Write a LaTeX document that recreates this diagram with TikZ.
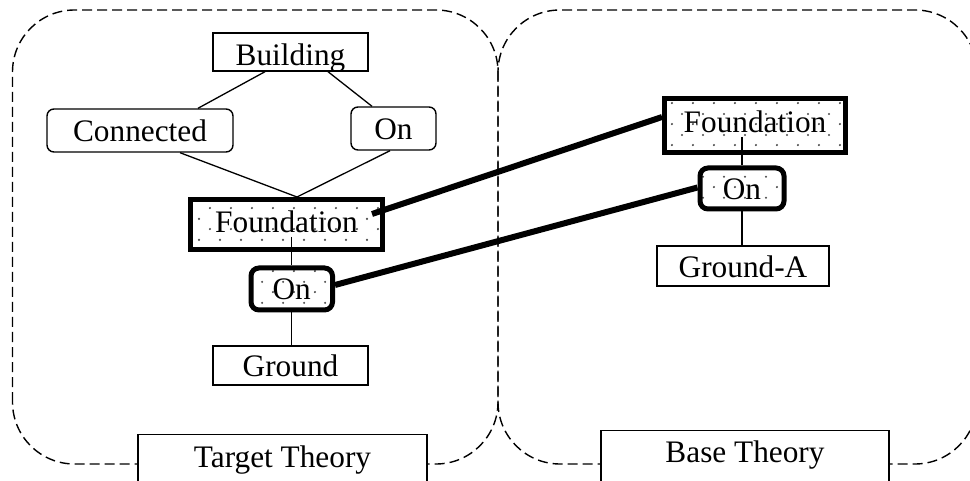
\documentclass[tikz,border=0pt]{standalone}
\usepackage{fontspec}
\setmainfont{Liberation Serif}
\usetikzlibrary{patterns}

% sparse staggered dot fill for the mapped elements
\pgfdeclarepatternformonly{sparsedots}{\pgfqpoint{-2pt}{-2pt}}{\pgfqpoint{19pt}{19pt}}{\pgfqpoint{21pt}{21pt}}{%
  \pgfpathcircle{\pgfqpoint{0pt}{0pt}}{1.2pt}%
  \pgfpathcircle{\pgfqpoint{10.5pt}{10.5pt}}{1.2pt}%
  \pgfusepath{fill}%
}

\begin{document}
\begin{tikzpicture}[x=1pt,y=-1pt,
  font=\fontsize{31.3}{36}\selectfont,
  box/.style={draw, line width=1.4pt, inner sep=0pt, text depth=0pt},
  rbox/.style={box, rounded corners=7pt},
  keybox/.style={draw, line width=5pt, inner sep=0pt, text depth=0pt,
    pattern=sparsedots, pattern color=black!70},
  keyrbox/.style={keybox, rounded corners=8pt},
  link/.style={line width=1.3pt},
  maplink/.style={line width=6pt},
  theory/.style={draw, dash pattern=on 10pt off 5pt, line width=1.4pt, rounded corners=62pt},
  labelbox/.style={draw, fill=white, line width=1.4pt, inner sep=0pt, anchor=north}
]
\useasboundingbox (0,0) rectangle (970,481);

% the two theories
\draw[theory] (12.5,464) rectangle (498,10);
\draw[theory] (498,10) rectangle (977,464);

\node[labelbox, minimum width=289pt, text height=33pt, text depth=20pt] (tt) at (282.5,434) {Target Theory};
\node[labelbox, minimum width=288pt, text height=32pt, text depth=22pt] (bt) at (745,430) {Base Theory};

% target theory
\node[box, minimum width=155pt, minimum height=38pt, text height=28pt] (bld) at (290.5,52) {Building};
\node[rbox, minimum width=186pt, minimum height=43pt, text height=22.4pt] (con) at (140,130.5) {Connected};
\node[rbox, minimum width=85pt, minimum height=43pt, text height=23pt] (on1) at (393.5,128.5) {On};
\node[keybox, minimum width=192pt, minimum height=50pt, text height=17pt] (fl) at (286.5,224.5) {Foundation};
\node[keyrbox, minimum width=81.5pt, minimum height=42pt, text height=22pt] (onl) at (291.75,289) {On};
\node[box, minimum width=155pt, minimum height=39pt, text height=23pt] (gnd) at (290.5,365.5) {Ground};

% base theory
\node[keybox, minimum width=181pt, minimum height=54pt, text height=15pt] (fr) at (755,125.5) {Foundation};
\node[keyrbox, minimum width=84pt, minimum height=41pt, text height=23pt] (onr) at (742,188.5) {On};
\node[box, minimum width=172pt, minimum height=40pt, text height=24pt] (gna) at (743,266) {Ground-A};

% structure links
\draw[link] ([xshift=-25.5pt]bld.south) -- ([xshift=58pt]con.north);
\draw[link] ([xshift=37.5pt]bld.south) -- ([xshift=-21.5pt]on1.north);
\draw[link] ([xshift=40pt]con.south) -- ([xshift=10.5pt]fl.north);
\draw[link] ([xshift=-3.5pt]on1.south) -- ([xshift=10.5pt]fl.north);
\coordinate (fla) at ([yshift=-12.5pt]fl.center);
\draw[link] (fla -| onl.north) -- (onl.north);
\draw[link] (onl.south) -- (onl.south |- gnd.north);
\coordinate (fra) at ([yshift=-11.5pt]fr.center);
\draw[link] (fra -| onr.north) -- (onr.north);
\draw[link] (onr.south) -- (onr.south |- gna.north);

% correspondences between the theories
\draw[maplink] ([xshift=85.5pt,yshift=10.5pt]fl.center) -- ([yshift=8.5pt]fr.west);
\draw[maplink] ([yshift=4pt]onl.east) -- ([yshift=1pt]onr.west);
\end{tikzpicture}
\end{document}
